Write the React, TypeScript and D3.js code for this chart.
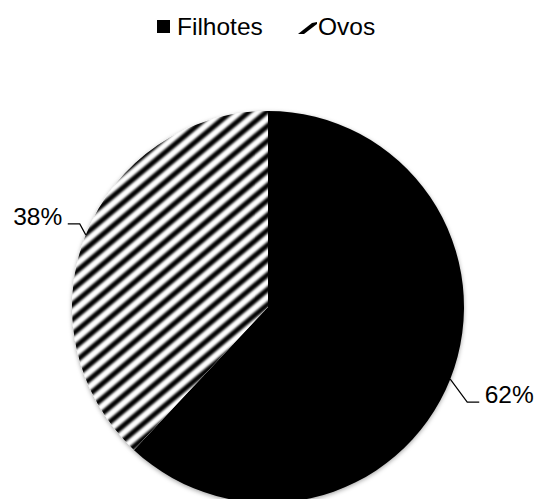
import React from "react";
import * as d3 from "d3";

const categories = ["Filhotes", "Ovos"];
const values = [62, 38];
const labels = ["62%", "38%"];
// leader elbow offsets relative to the arc point (layout)
const elbowOffsets: [number, number][] = [[17, 23], [-6, -11]];
const leaderDir = [1, -1];

const W = 536, H = 499;
const cx = 268, cy = 307, R = 196;
const FONT = "'Liberation Sans', Arial, sans-serif";
const STRIPE_PERIOD = 11.4;
const STRIPE_ANGLE = 40; // degrees, rising to the right
const STRIPE_WIDTH = 5.2;

export default function App() {
  const pie = d3.pie<number>().sort(null).value((d) => d);
  const arcs = pie(values);
  const arcGen = d3.arc<d3.PieArcDatum<number>>().innerRadius(0).outerRadius(R);

  const a = (STRIPE_ANGLE * Math.PI) / 180;
  const dx = Math.cos(a), dy = -Math.sin(a);
  const nx = Math.sin(a), ny = Math.cos(a);
  const offsets = d3.range(-R - STRIPE_PERIOD, R + STRIPE_PERIOD, STRIPE_PERIOD);
  const stripePath = offsets
    .map((t) => {
      const px = t * nx, py = t * ny;
      return `M${px - dx * (R + 20)},${py - dy * (R + 20)}L${px + dx * (R + 20)},${py + dy * (R + 20)}`;
    })
    .join("");

  return (
    <svg width={W} height={H} style={{ position: "absolute", left: 0, top: 0, background: "#fff" }}>
      <defs>
        <filter id="shadow" x="-10%" y="-10%" width="120%" height="120%">
          <feDropShadow dx={0} dy={1.5} stdDeviation={2} floodColor="#000" floodOpacity={0.35} />
        </filter>
        <filter id="soft" x="-5%" y="-5%" width="110%" height="110%">
          <feGaussianBlur stdDeviation={0.9} />
        </filter>
        <clipPath id="ovosClip">
          <path d={arcGen(arcs[1]) || ""} />
        </clipPath>
      </defs>

      {/* Legend */}
      <g fontFamily={FONT} fontSize={24.5} fill="#000">
        <rect x={157} y={20} width={13} height={13} fill="#000" />
        <text x={177} y={35}>{categories[0]}</text>
        <path d="M298,34 L304,34 L317,24 L317,22 L312,23 Z" fill="#000" />
        <text x={318} y={35}>{categories[1]}</text>
      </g>

      {/* Pie */}
      <g transform={`translate(${cx},${cy})`}>
        <g filter="url(#shadow)">
          <path d={arcGen(arcs[0]) || ""} fill="#000" />
          <path d={arcGen(arcs[1]) || ""} fill="#fff" />
        </g>
        <g clipPath="url(#ovosClip)">
          <path d={stripePath} stroke="#000" strokeWidth={STRIPE_WIDTH} fill="none" filter="url(#soft)" />
        </g>
      </g>

      {/* Labels with leader lines */}
      <g fontFamily={FONT} fontSize={24.5} fill="#000">
        {arcs.map((ad, i) => {
          const mid = (ad.startAngle + ad.endAngle) / 2;
          const px = cx + R * Math.sin(mid);
          const py = cy - R * Math.cos(mid);
          const ex = px + elbowOffsets[i][0];
          const ey = py + elbowOffsets[i][1];
          const hx = ex + leaderDir[i] * 12;
          const tx = hx + leaderDir[i] * 5.5;
          return (
            <g key={labels[i]}>
              <polyline points={`${px},${py} ${ex},${ey} ${hx},${ey}`} fill="none" stroke="#000" strokeWidth={1.2} />
              <text x={tx} y={ey + 1} textAnchor={leaderDir[i] > 0 ? "start" : "end"}>{labels[i]}</text>
            </g>
          );
        })}
      </g>
    </svg>
  );
}
